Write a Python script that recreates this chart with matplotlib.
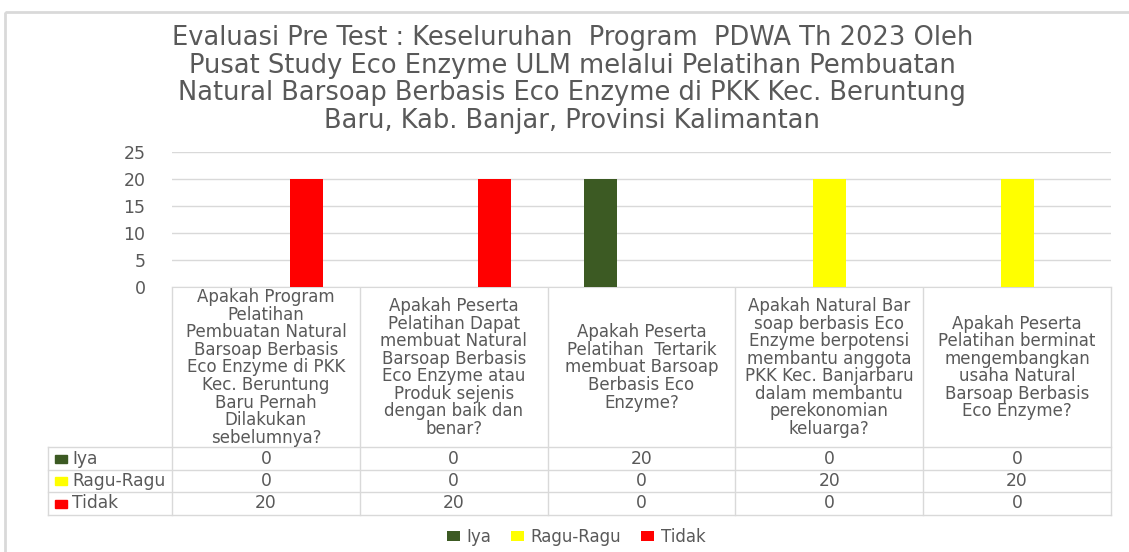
import numpy as np
import matplotlib
matplotlib.use("Agg")
import matplotlib.pyplot as plt
from matplotlib.patches import Rectangle

plt.rcParams['font.family'] = ['DejaVu Sans']

judul = ("Evaluasi Pre Test : Keseluruhan  Program  PDWA Th 2023 Oleh\n"
         "Pusat Study Eco Enzyme ULM melalui Pelatihan Pembuatan\n"
         "Natural Barsoap Berbasis Eco Enzyme di PKK Kec. Beruntung\n"
         "Baru, Kab. Banjar, Provinsi Kalimantan")

pertanyaan = [
    "Apakah Program\nPelatihan\nPembuatan Natural\nBarsoap Berbasis\nEco Enzyme di PKK\nKec. Beruntung\nBaru Pernah\nDilakukan\nsebelumnya?",
    "Apakah Peserta\nPelatihan Dapat\nmembuat Natural\nBarsoap Berbasis\nEco Enzyme atau\nProduk sejenis\ndengan baik dan\nbenar?",
    "Apakah Peserta\nPelatihan  Tertarik\nmembuat Barsoap\nBerbasis Eco\nEnzyme?",
    "Apakah Natural Bar\nsoap berbasis Eco\nEnzyme berpotensi\nmembantu anggota\nPKK Kec. Banjarbaru\ndalam membantu\nperekonomian\nkeluarga?",
    "Apakah Peserta\nPelatihan berminat\nmengembangkan\nusaha Natural\nBarsoap Berbasis\nEco Enzyme?",
]
seri = ["Iya", "Ragu-Ragu", "Tidak"]
iya = [0, 0, 20, 0, 0]
ragu = [0, 0, 0, 20, 20]
tidak = [20, 20, 0, 0, 0]
nilai = [iya, ragu, tidak]
warna = ["#3c5a23", "#ffff00", "#ff0000"]
yticks = [0, 5, 10, 15, 20, 25]

W, H = 1129, 552
teks = "#595959"
garis = "#d9d9d9"

fig = plt.figure(figsize=(W / 100, H / 100), dpi=100)

# overlay in pixel coords for frame + table
bg = fig.add_axes([0, 0, 1, 1])
bg.set_xlim(0, W)
bg.set_ylim(H, 0)
bg.axis("off")
bg.add_patch(Rectangle((5, 12), W, H, fill=False, ec=garis, lw=2))

# plot area
x0, x1 = 172, 1111
ytop, ybot = 152, 287
ax = fig.add_axes([x0 / W, 1 - ybot / H, (x1 - x0) / W, (ybot - ytop) / H])
n = len(pertanyaan)
idx = np.arange(n)
lebar = 0.175
jarak = 0.218
for i, (nama, v, c) in enumerate(zip(seri, nilai, warna)):
    ax.bar(idx + (i - 1) * jarak, v, lebar, color=c, label=nama, zorder=3)
ax.set_xlim(-0.5, n - 0.5)
ax.set_ylim(0, 25)
ax.set_yticks(yticks)
ax.set_xticks([])
ax.grid(axis="y", color=garis, lw=1, zorder=0)
for s in ["top", "right", "left"]:
    ax.spines[s].set_visible(False)
ax.spines["bottom"].set_color(garis)
ax.tick_params(axis="y", length=0, labelsize=12.5, labelcolor=teks, pad=19)

fig.text(0.507, 1 - 79.5 / H, judul, ha="center", va="center", fontsize=18.5,
         color=teks, linespacing=1.08)

# data table
kol = (x1 - x0) / n
xl = 48
baris = [447, 470, 492, 515]
for yb in baris:
    bg.plot([xl, x1], [yb, yb], color=garis, lw=1)
bg.plot([xl, xl], [baris[0], baris[-1]], color=garis, lw=1)
for j in range(n + 1):
    xv = x0 + j * kol
    bg.plot([xv, xv], [ybot, baris[-1]], color=garis, lw=1)

for j, q in enumerate(pertanyaan):
    bg.text(x0 + (j + 0.5) * kol, (ybot + baris[0]) / 2 + 0.5, q, ha="center",
            va="center", fontsize=12, color=teks, linespacing=0.97)

for i, (nama, v, c) in enumerate(zip(seri, nilai, warna)):
    yc = (baris[i] + baris[i + 1]) / 2
    bg.add_patch(Rectangle((55, yc - 4), 12, 8, color=c))
    bg.text(72, yc, nama, ha="left", va="center", fontsize=12.3, color=teks)
    for j in range(n):
        bg.text(x0 + (j + 0.5) * kol, yc, str(v[j]), ha="center", va="center",
                fontsize=12.3, color=teks)

fig.legend(loc="center", bbox_to_anchor=(576 / W, 1 - 537 / H), ncol=3,
           frameon=False, fontsize=12, labelcolor=teks, handlelength=0.8,
           handleheight=0.6, handletextpad=0.4, columnspacing=1.15)

fig.savefig("out.png", dpi=100)
